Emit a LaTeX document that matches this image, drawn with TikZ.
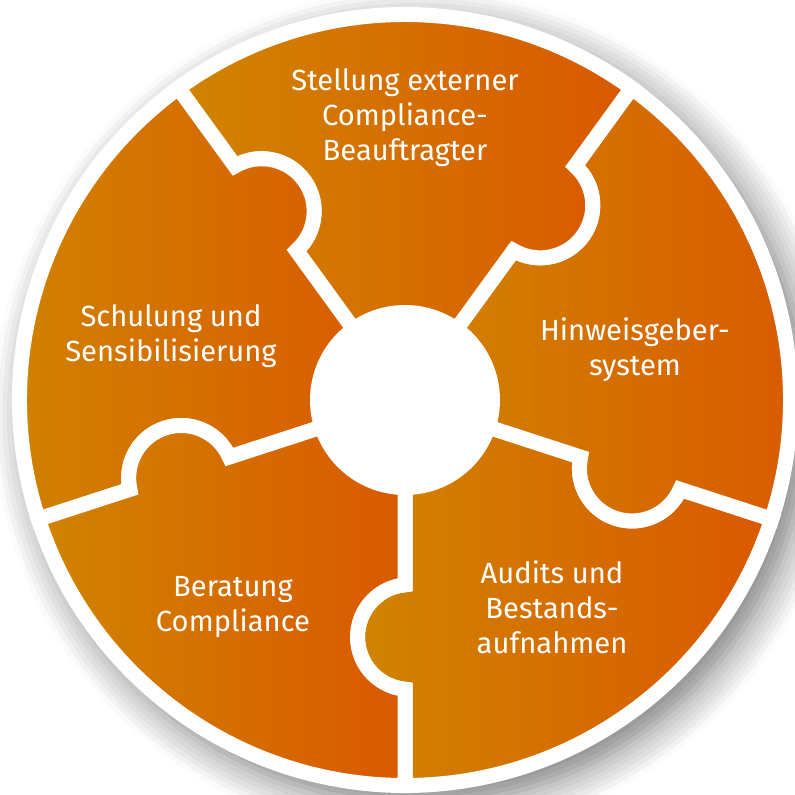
\documentclass[tikz,border=0pt]{standalone}
\usepackage{fontspec}
\setmainfont{Fira Sans}
\usepackage{tikz}
\usetikzlibrary{shadows.blur}
\definecolor{PuzzleYellow}{RGB}{208,132,0}
\definecolor{PuzzleRed}{RGB}{218,88,0}
\tikzset{
  piece/.style={left color=PuzzleYellow,right color=PuzzleRed,draw=white,line width=1.5mm},
  ptext/.style={text=white,align=center,inner sep=0pt,font=\fontsize{8.3}{10}\selectfont},
  hubdisc/.style={circle,fill=white,minimum size=1.9cm,inner sep=0pt},
}

\begin{document}
\begin{tikzpicture}
    \useasboundingbox (-4.05,-3.95) rectangle (3.90,4.00);
    % white base disc with soft shadow
    \fill[white,blur shadow={shadow xshift=1.3mm,shadow yshift=-1.4mm,shadow blur radius=3.5mm,shadow blur steps=8,shadow opacity=55}] (0,0) circle (3.9);
    % puzzle pieces, knob on the lower edge of each piece
    \path[piece] (0,0) -- (-90:1.847) arc[start angle=95.47,end angle=264.53,radius=0.525] -- (-90:3.855)
      arc[start angle=-90,end angle=-18,radius=3.855] -- (-18:2.893) arc[start angle=336.53,end angle=167.47,radius=0.525] -- cycle;
    \path[piece] (0,0) -- (-18:1.847) arc[start angle=167.47,end angle=336.53,radius=0.525] -- (-18:3.855)
      arc[start angle=-18,end angle=54,radius=3.855] -- (54:2.893) arc[start angle=408.53,end angle=239.47,radius=0.525] -- cycle;
    \path[piece] (0,0) -- (54:1.847) arc[start angle=239.47,end angle=408.53,radius=0.525] -- (54:3.855)
      arc[start angle=54,end angle=126,radius=3.855] -- (126:2.893) arc[start angle=480.53,end angle=311.47,radius=0.525] -- cycle;
    \path[piece] (0,0) -- (126:1.847) arc[start angle=311.47,end angle=480.53,radius=0.525] -- (126:3.855)
      arc[start angle=126,end angle=198,radius=3.855] -- (198:2.893) arc[start angle=552.53,end angle=383.47,radius=0.525] -- cycle;
    \path[piece] (0,0) -- (198:1.847) arc[start angle=383.47,end angle=552.53,radius=0.525] -- (198:3.855)
      arc[start angle=198,end angle=270,radius=3.855] -- (270:2.893) arc[start angle=624.53,end angle=455.47,radius=0.525] -- cycle;
    \node[hubdisc] (hub) at (0,0) {};
    \node[ptext] (stellung) at (0,2.82)     {Stellung externer\\Compliance-\\Beauftragter};
    \node[ptext] (hinweis)  at (2.30,0.50)  {Hinweisgeber-\\system};
    \node[ptext] (audits)   at (1.47,-2.07) {Audits und\\Bestands-\\aufnahmen};
    \node[ptext] (beratung) at (-1.72,-2.07){Beratung\\Compliance};
    \node[ptext] (schulung) at (-2.34,0.64) {Schulung und\\Sensibilisierung};
  \end{tikzpicture}
\end{document}
